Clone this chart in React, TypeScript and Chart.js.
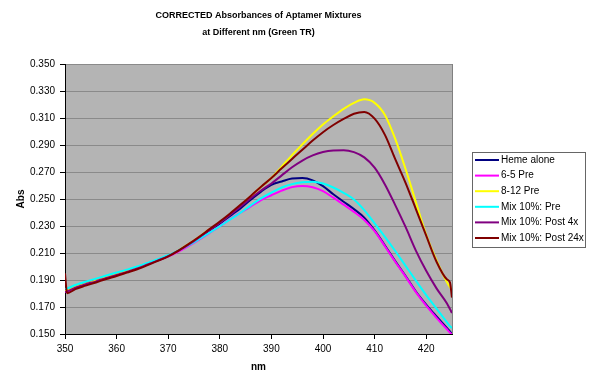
import React, { useEffect, useRef } from "react";
import { Chart, registerables } from "chart.js";

Chart.register(...registerables);

const TITLE_LINES = ["CORRECTED Absorbances of Aptamer Mixtures", "at Different nm (Green TR)"];
const X_TITLE = "nm";
const Y_TITLE = "Abs";

const X_MIN = 350;
const X_MAX = 425;
const X_STEP = 10;
const Y_MIN = 0.15;
const Y_MAX = 0.35;
const Y_STEP = 0.02;

const WAVELENGTHS = [
  350, 350.4, 352, 354, 356, 358, 360, 362, 364, 366, 368, 370, 372, 374, 376, 378, 380, 382, 384, 386,
  388, 390, 392, 394, 396, 398, 400, 402, 404, 406, 408, 410, 412, 414, 416, 418, 420, 422, 424, 424.6, 425,
];

const SERIES_NAMES = ["Heme alone", "6-5 Pre", "8-12 Pre", "Mix 10%: Pre", "Mix 10%: Post 4x", "Mix 10%: Post 24x"];
const SERIES_COLORS = ["#000080", "#FF00FF", "#FFFF00", "#00FFFF", "#800080", "#800000"];

const HEME_ALONE = [
  0.1815, 0.182, 0.1848, 0.1873, 0.1895, 0.192, 0.1943, 0.1965, 0.199, 0.202, 0.2048, 0.2078, 0.2118, 0.2163,
  0.2213, 0.2268, 0.2318, 0.2375, 0.243, 0.2495, 0.2555, 0.2605, 0.263, 0.2652, 0.2655, 0.2638, 0.2595, 0.2535,
  0.248, 0.2425, 0.2362, 0.2267, 0.2156, 0.204, 0.193, 0.1815, 0.1718, 0.163, 0.1545, 0.152, 0.15,
];
const PRE_6_5 = [
  0.1812, 0.1815, 0.1845, 0.187, 0.1893, 0.1918, 0.194, 0.1962, 0.1987, 0.2016, 0.2045, 0.2073, 0.211, 0.2152,
  0.2198, 0.2248, 0.2298, 0.235, 0.2398, 0.2445, 0.2492, 0.2528, 0.2562, 0.2588, 0.2597, 0.2587, 0.2558, 0.251,
  0.2458, 0.2405, 0.2345, 0.2262, 0.215, 0.2035, 0.1925, 0.181, 0.171, 0.162, 0.1535, 0.151, 0.1495,
];
const PRE_8_12 = [
  0.1818, 0.182, 0.1848, 0.1872, 0.1895, 0.192, 0.1942, 0.1965, 0.199, 0.202, 0.2048, 0.208, 0.212, 0.2167,
  0.222, 0.2275, 0.2328, 0.2388, 0.2452, 0.252, 0.259, 0.2655, 0.274, 0.2825, 0.2905, 0.2982, 0.3052, 0.3112,
  0.3168, 0.3212, 0.3238, 0.3212, 0.3122, 0.2945, 0.2722, 0.2478, 0.2235, 0.2045, 0.1885, 0.1848, 0.1825,
];
const MIX_PRE = [
  0.1835, 0.1838, 0.1863, 0.1888, 0.191, 0.1933, 0.1955, 0.1977, 0.2, 0.2027, 0.2055, 0.2083, 0.212, 0.2158,
  0.2203, 0.225, 0.2298, 0.2348, 0.2398, 0.2453, 0.2505, 0.2547, 0.2585, 0.261, 0.2624, 0.2628, 0.2615, 0.2585,
  0.2545, 0.2497, 0.2418, 0.232, 0.222, 0.2115, 0.2005, 0.1895, 0.1788, 0.1688, 0.1588, 0.1558, 0.1545,
];
const MIX_POST_4X = [
  0.1812, 0.1815, 0.1843, 0.1868, 0.189, 0.1915, 0.1938, 0.196, 0.1985, 0.2015, 0.2045, 0.2077, 0.2117, 0.2163,
  0.2215, 0.227, 0.2325, 0.2383, 0.2443, 0.2505, 0.2563, 0.2615, 0.2675, 0.2735, 0.2785, 0.2823, 0.2848, 0.286,
  0.2862, 0.2847, 0.2808, 0.2732, 0.2608, 0.2455, 0.2293, 0.2118, 0.1968, 0.1838, 0.1728, 0.1685, 0.1655,
];
const MIX_POST_24X = [
  0.195, 0.1802, 0.1832, 0.1858, 0.1882, 0.1907, 0.193, 0.1955, 0.198, 0.201, 0.2042, 0.2075, 0.2118, 0.2167,
  0.222, 0.2277, 0.2333, 0.2393, 0.2457, 0.2523, 0.2591, 0.2655, 0.2727, 0.2797, 0.2865, 0.2933, 0.2995, 0.3048,
  0.3093, 0.3132, 0.3145, 0.3095, 0.2975, 0.2795, 0.262, 0.2425, 0.2228, 0.2035, 0.1905, 0.1882, 0.177,
];

const FONT = "'Liberation Sans', Arial, sans-serif";

const backgroundPlugin = {
  id: "excelBackground",
  beforeDraw(chart: any) {
    const { ctx, chartArea } = chart;
    ctx.save();
    ctx.fillStyle = "#ffffff";
    ctx.fillRect(0, 0, chart.width, chart.height);
    ctx.fillStyle = "#b4b4b4";
    ctx.fillRect(chartArea.left, chartArea.top, chartArea.right - chartArea.left, chartArea.bottom - chartArea.top);
    ctx.restore();
  },
};

const overlayPlugin = {
  id: "excelOverlay",
  afterDraw(chart: any) {
    const { ctx, chartArea } = chart;
    ctx.save();
    // plot-area right border
    ctx.strokeStyle = "#808080";
    ctx.lineWidth = 1;
    ctx.beginPath();
    ctx.moveTo(Math.round(chartArea.right) + 0.5, chartArea.top);
    ctx.lineTo(Math.round(chartArea.right) + 0.5, chartArea.bottom);
    ctx.stroke();

    // title
    const cx = (chartArea.left + chartArea.right) / 2;
    ctx.fillStyle = "#000";
    ctx.font = `bold 9px ${FONT}`;
    ctx.textAlign = "center";
    ctx.textBaseline = "middle";
    ctx.fillText(TITLE_LINES[0], cx, 16);
    ctx.fillText(TITLE_LINES[1], cx, 33);

    // legend
    const lx = chartArea.right + 20;
    const ly = 152;
    const lw = 113;
    const lh = 95;
    ctx.fillStyle = "#ffffff";
    ctx.fillRect(lx, ly, lw, lh);
    ctx.strokeStyle = "#666666";
    ctx.strokeRect(lx + 0.5, ly + 0.5, lw, lh);
    ctx.font = `10px ${FONT}`;
    ctx.textAlign = "left";
    chart.data.datasets.forEach((ds: any, i: number) => {
      const y = ly + 8 + i * 15.6;
      ctx.strokeStyle = ds.borderColor;
      ctx.lineWidth = 2;
      ctx.beginPath();
      ctx.moveTo(lx + 3, y);
      ctx.lineTo(lx + 27, y);
      ctx.stroke();
      ctx.fillStyle = "#000";
      ctx.fillText(ds.label, lx + 29, y);
    });
    ctx.restore();
  },
};

export default function App() {
  const ref = useRef<HTMLCanvasElement>(null);

  useEffect(() => {
    if (!ref.current) return;
    const seriesValues = [HEME_ALONE, PRE_6_5, PRE_8_12, MIX_PRE, MIX_POST_4X, MIX_POST_24X];
    const datasets = seriesValues.map((vals, i) => ({
      label: SERIES_NAMES[i],
      data: WAVELENGTHS.map((x, j) => ({ x, y: vals[j] })),
      borderColor: SERIES_COLORS[i],
      backgroundColor: SERIES_COLORS[i],
      borderWidth: 2,
      pointRadius: 0,
      fill: false,
      cubicInterpolationMode: "monotone" as const,
      order: seriesValues.length - i,
    }));

    const chart = new Chart(ref.current, {
      type: "line",
      data: { datasets },
      options: {
        responsive: false,
        animation: false,
        devicePixelRatio: 1,
        layout: { padding: { top: 64, right: 148, bottom: 0, left: 0 } },
        plugins: {
          legend: { display: false },
          title: { display: false },
          tooltip: { enabled: false },
        },
        scales: {
          x: {
            type: "linear",
            min: X_MIN,
            max: X_MAX,
            ticks: {
              stepSize: X_STEP,
              includeBounds: false,
              autoSkip: false,
              maxRotation: 0,
              padding: 4,
              color: "#000",
              font: { family: FONT, size: 10 },
            },
            grid: { drawOnChartArea: false, drawTicks: true, tickLength: 5, color: "#000", tickColor: "#000" },
            border: { display: true, color: "#000", width: 1 },
            title: {
              display: true,
              text: X_TITLE,
              color: "#000",
              font: { family: FONT, size: 10, weight: "bold" },
              padding: { top: 0, bottom: 6 },
            },
            afterFit: (s: any) => {
              s.height = 45;
            },
          },
          y: {
            type: "linear",
            min: Y_MIN,
            max: Y_MAX,
            ticks: {
              stepSize: Y_STEP,
              padding: 5,
              color: "#000",
              font: { family: FONT, size: 10 },
              callback: (v: any) => Number(v).toFixed(3),
            },
            grid: { color: "#8a8a8a", tickColor: "#000", tickLength: 5, drawTicks: true },
            border: { display: true, color: "#000", width: 1 },
            title: {
              display: true,
              text: Y_TITLE,
              color: "#000",
              font: { family: FONT, size: 10, weight: "bold" },
              padding: { top: 15, bottom: 0 },
            },
            afterFit: (s: any) => {
              s.width = 65;
            },
          },
        },
      },
      plugins: [backgroundPlugin, overlayPlugin],
    });
    return () => chart.destroy();
  }, []);

  return (
    <div style={{ position: "absolute", left: 0, top: 0, width: 600, height: 379, background: "#fff" }}>
      <canvas ref={ref} width={600} height={379} style={{ display: "block" }} />
    </div>
  );
}
